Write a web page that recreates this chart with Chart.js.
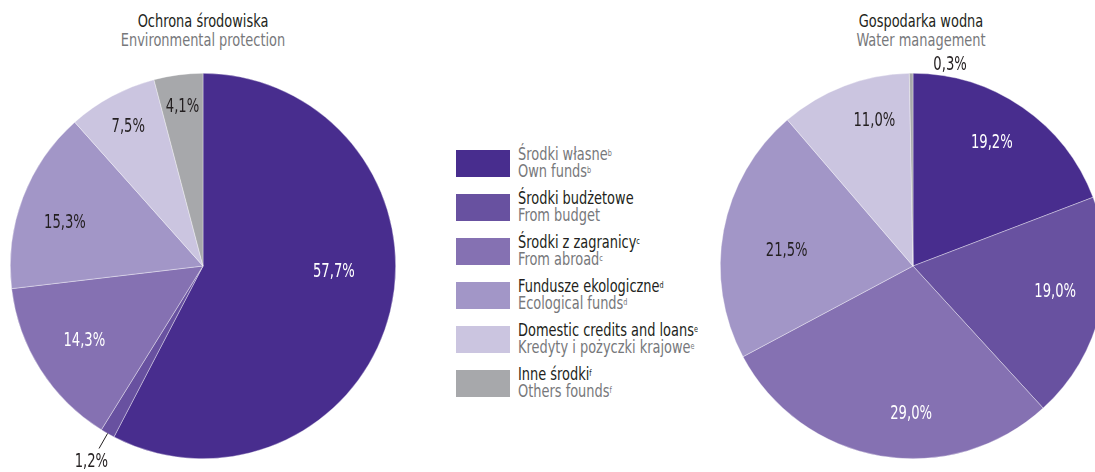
<!DOCTYPE html>
<html><head><meta charset="utf-8">
<script src="https://cdn.jsdelivr.net/npm/chart.js@4/dist/chart.umd.min.js"></script>
<style>
html,body{margin:0;padding:0;width:1095px;height:472px;overflow:hidden;background:#fff;
font-family:"DejaVu Sans Condensed","DejaVu Sans",sans-serif;}
.box{position:absolute;}
.title{position:absolute;text-align:center;font-size:18px;line-height:19px;width:300px;}
.title div{transform:scaleX(0.8);transform-origin:center;white-space:nowrap;}
.pl{color:#231f20}.en{color:#77787b}
#legend{position:absolute;left:456px;top:150px;}
.item{position:relative;height:44px;}
.sw{position:absolute;left:0;top:0;width:54px;height:27px;}
.txt{position:absolute;left:62px;top:-4px;font-size:18px;line-height:16.5px;white-space:nowrap;transform:scaleX(0.8);transform-origin:left top;}
sup{font-size:9px;vertical-align:top;position:relative;top:-1px;}
</style></head><body>
<div class="title" style="left:53px;top:11px"><div class="pl">Ochrona środowiska</div><div class="en">Environmental protection</div></div>
<div class="title" style="left:771px;top:11px"><div class="pl">Gospodarka wodna</div><div class="en">Water management</div></div>
<div class="box" style="left:0;top:0;width:440px;height:472px"><canvas id="c1"></canvas></div>
<div class="box" style="left:700px;top:0;width:420px;height:472px"><canvas id="c2"></canvas></div>
<div id="legend"></div>
<script>
const categoriesPl = ["Środki własne","Środki budżetowe","Środki z zagranicy","Fundusze ekologiczne","Domestic credits and loans","Inne środki"];
const categoriesEn = ["Own funds","From budget","From abroad","Ecological funds","Kredyty i pożyczki krajowe","Others founds"];
const footnotes = ["b","","c","d","e","f"];
const envValues = [57.7, 1.2, 14.3, 15.3, 7.5, 4.1];
const waterValues = [19.2, 19.0, 29.0, 21.5, 11.0, 0.3];
const colors = ["#482d8e","#6851a0","#8571b2","#a296c7","#cbc5e0","#a7a8ab"];

// label styling (not data)
const envLabelStyle = {
  frac:[0.68,1.17,0.73,0.75,0.82,0.83],
  shift:[-11,0,0,-3.6,0,0],
  color:["#fff","#231f20","#fff","#231f20","#231f20","#231f20"],
  leader:[false,true,false,false,false,false]
};
const waterLabelStyle = {
  frac:[0.76,0.75,0.77,0.66,0.78,1.06],
  shift:[-2,-3,-9,-4,6,11],
  color:["#fff","#fff","#fff","#231f20","#231f20","#231f20"],
  leader:[false,false,false,false,false,false]
};

const fmt = v => v.toFixed(1).replace('.', ',') + '%';

const labelPlugin = {
  id:'sliceLabels',
  afterDatasetsDraw(chart, args, opts){
    const ctx = chart.ctx;
    const meta = chart.getDatasetMeta(0);
    const vals = chart.data.datasets[0].data;
    const st = opts.style;
    ctx.save();
    ctx.font = '19px "DejaVu Sans Condensed","DejaVu Sans",sans-serif';
    ctx.textAlign='center'; ctx.textBaseline='middle';
    meta.data.forEach((arc,i)=>{
      const p = arc.getProps(['x','y','startAngle','endAngle','outerRadius'], true);
      const mid = (p.startAngle+p.endAngle)/2 + st.shift[i]*Math.PI/180;
      const r = p.outerRadius*st.frac[i];
      const lx = p.x + Math.cos(mid)*r, ly = p.y + Math.sin(mid)*r;
      if (st.leader[i]) {
        ctx.strokeStyle='#231f20'; ctx.lineWidth=1;
        ctx.beginPath();
        ctx.moveTo(p.x+Math.cos(mid)*p.outerRadius, p.y+Math.sin(mid)*p.outerRadius);
        ctx.lineTo(p.x+Math.cos(mid)*p.outerRadius*1.09, p.y+Math.sin(mid)*p.outerRadius*1.09);
        ctx.stroke();
      }
      ctx.fillStyle = st.color[i];
      ctx.save();
      ctx.translate(lx, ly);
      ctx.scale(0.77, 1);
      ctx.fillText(fmt(vals[i]), 0, 0);
      ctx.restore();
    });
    ctx.restore();
  }
};

function makePie(id, values, style, padding){
  return new Chart(document.getElementById(id), {
    type:'pie',
    data:{labels:categoriesPl, datasets:[{data:values, backgroundColor:colors,
      borderColor:'rgba(255,255,255,0.6)', borderWidth:0.6}]},
    options:{responsive:true, maintainAspectRatio:false, animation:false,
      layout:{padding},
      plugins:{legend:{display:false}, tooltip:{enabled:false}, sliceLabels:{style}}},
    plugins:[labelPlugin]
  });
}
makePie('c1', envValues, envLabelStyle, {left:10,right:44,top:73,bottom:13});
makePie('c2', waterValues, waterLabelStyle, {left:20,right:14,top:73,bottom:13});

const lg = document.getElementById('legend');
categoriesPl.forEach((c,i)=>{
  const it = document.createElement('div'); it.className='item';
  const sup = footnotes[i] ? '<sup>'+footnotes[i]+'</sup>' : '';
  const plColor = i===0 ? '#77787b' : '#231f20';
  it.innerHTML = '<div class="sw" style="background:'+colors[i]+'"></div>'+
    '<div class="txt"><div class="pl" style="color:'+plColor+'">'+c+sup+'</div><div class="en">'+categoriesEn[i]+sup+'</div></div>';
  lg.appendChild(it);
});
</script>
</body></html>
